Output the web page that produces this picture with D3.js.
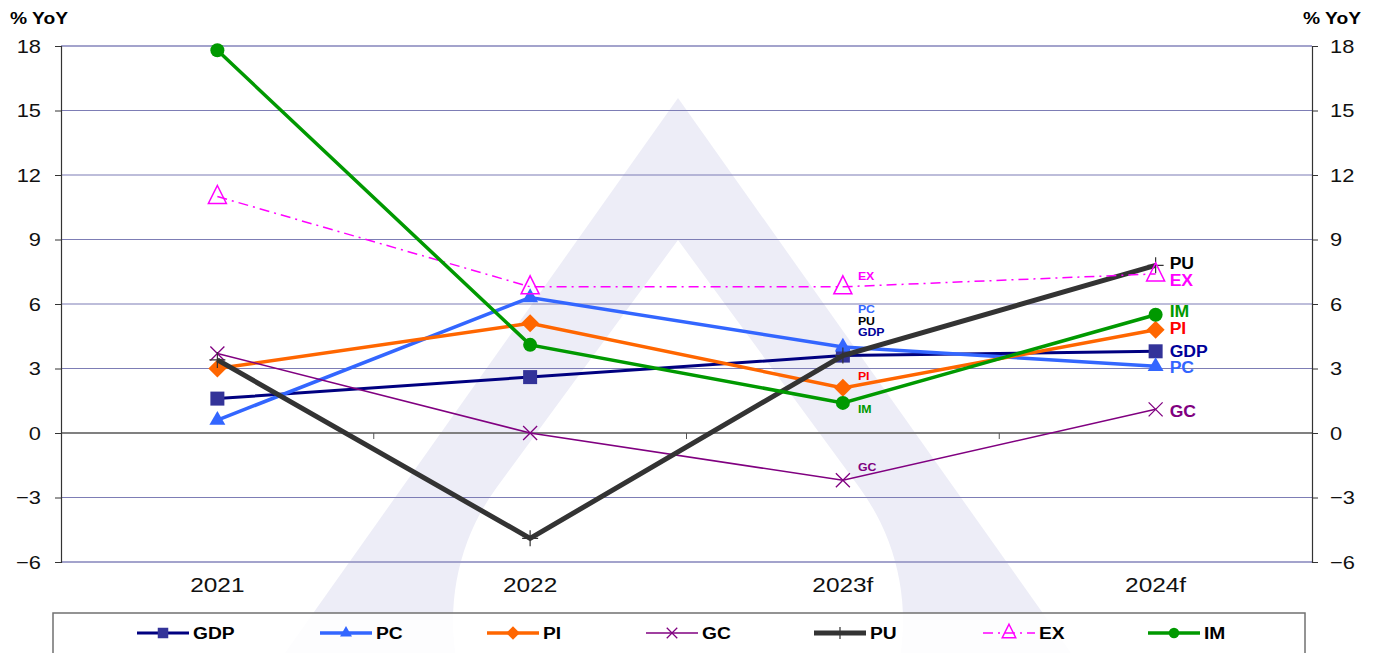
<!DOCTYPE html>
<html>
<head>
<meta charset="utf-8">
<script src="https://cdn.jsdelivr.net/npm/d3@7"></script>
<style>
  body { margin: 0; background: #fff; }
  svg text { font-family: "Liberation Sans", Arial, sans-serif; }
</style>
</head>
<body>
<div id="chart"></div>
<script>
const width = 1380, height = 653, margin = {top: 46, right: 68, bottom: 91, left: 61};

// data
const years = ["2021", "2022", "2023f", "2024f"];
const yTicks = [-6, -3, 0, 3, 6, 9, 12, 15, 18];
const gdp = [1.6, 2.6, 3.6, 3.8];
const pc  = [0.6, 6.3, 4.0, 3.1];
const pi  = [3.0, 5.1, 2.1, 4.8];
const gc  = [3.7, 0.0, -2.2, 1.1];
const pu  = [3.4, -4.9, 3.6, 7.8];
const ex  = [11.0, 6.8, 6.8, 7.4];
const im  = [17.8, 4.1, 1.4, 5.5];

const series = [
  {name: "GDP", values: gdp, color: "#000080", mark: "#333399", label: "#000099", width: 3, symbol: "square"},
  {name: "PC",  values: pc,  color: "#3366ff", mark: "#3366ff", label: "#3366ff", width: 3.5, symbol: "triangle"},
  {name: "PI",  values: pi,  color: "#ff6600", mark: "#ff6600", label: "#ff0000", width: 3.5, symbol: "diamond"},
  {name: "GC",  values: gc,  color: "#800080", mark: "#800080", label: "#800080", width: 1.5, symbol: "x"},
  {name: "PU",  values: pu,  color: "#333333", mark: "#333333", label: "#000000", width: 5, symbol: "plus"},
  {name: "EX",  values: ex,  color: "#ff00ff", mark: "#ff00ff", label: "#ff00ff", width: 1.5, symbol: "hollowTriangle", dash: "10,5,2,5"},
  {name: "IM",  values: im,  color: "#009900", mark: "#009900", label: "#009900", width: 3.5, symbol: "circle"}
];

// label nudges (pixels) for the point labels at 2023f and 2024f
const nudge2023 = {EX: -11, PC: -38, PU: -34, GDP: -23, PI: -12, IM: 6, GC: -13};
const nudge2024 = {PU: -2, EX: 6, IM: -3, PI: -1, GDP: 0, PC: 1, GC: 2};
const legendX = [137, 320, 487, 646, 814, 983, 1148];

const svg = d3.select("#chart")
  .append("svg")
  .attr("width", width)
  .attr("height", height);

// watermark
const wm = svg.append("g");
wm.append("path")
  .attr("d", "M678,98 L280,660 L1076,660 Z")
  .attr("fill", "#ededf7");
wm.append("path")
  .attr("d", "M678,240 L497,487 A225,225 0 1,0 859,487 Z")
  .attr("fill", "#ffffff");

const x = d3.scaleBand()
  .domain(years)
  .range([margin.left, width - margin.right]);
const cx = d => x(d) + x.bandwidth() / 2;

const y = d3.scaleLinear()
  .domain([-6, 18])
  .range([height - margin.bottom, margin.top]);

// grid lines
svg.append("g")
  .selectAll("line")
  .data(yTicks)
  .join("line")
  .attr("x1", margin.left)
  .attr("x2", width - margin.right)
  .attr("y1", d => y(d))
  .attr("y2", d => y(d))
  .attr("stroke", d => d === 0 ? "#808080" : (d === 18 || d === -6) ? "#a3a3cc" : "#7d7db5")
  .attr("stroke-width", d => d === 0 ? 2 : (d === 18 || d === -6) ? 2 : 1.2);

// left / right axes
const yLeft = svg.append("g")
  .attr("transform", `translate(${margin.left},0)`)
  .call(d3.axisLeft(y).tickValues(yTicks).tickSize(6).tickPadding(14));
const yRight = svg.append("g")
  .attr("transform", `translate(${width - margin.right},0)`)
  .call(d3.axisRight(y).tickValues(yTicks).tickSize(6).tickPadding(12));
[yLeft, yRight].forEach(g => {
  g.select(".domain").attr("stroke", "#333").attr("stroke-width", 1.2);
  g.selectAll(".tick line").attr("stroke", "#333");
  g.selectAll(".tick text").attr("font-size", 19).attr("fill", "#111")
    .attr("class", "stretch").attr("data-k", 1.15)
    .style("font-family", "Liberation Sans, Arial, sans-serif");
});

// category ticks on the zero line
svg.append("g")
  .selectAll("line")
  .data(years.slice(1))
  .join("line")
  .attr("x1", d => x(d)).attr("x2", d => x(d))
  .attr("y1", y(0)).attr("y2", y(0) + 6)
  .attr("stroke", "#555");

svg.append("g")
  .selectAll("text")
  .data(years)
  .join("text")
  .attr("class", "stretch").attr("data-k", 1.22)
  .attr("x", d => cx(d))
  .attr("y", 592)
  .attr("text-anchor", "middle")
  .attr("font-size", 20)
  .attr("fill", "#111")
  .text(d => d);

svg.append("text").attr("x", 10).attr("y", 24)
  .attr("class", "stretch").attr("data-k", 1.2)
  .attr("font-size", 16).attr("font-weight", "bold").text("% YoY");
svg.append("text").attr("x", 1303).attr("y", 24)
  .attr("class", "stretch").attr("data-k", 1.2)
  .attr("font-size", 16).attr("font-weight", "bold").text("% YoY");

function drawSymbol(g, s, px, py, scale) {
  const k = scale || 1;
  if (s.symbol === "square") {
    g.append("rect").attr("x", px - 7 * k).attr("y", py - 7 * k)
      .attr("width", 14 * k).attr("height", 14 * k).attr("fill", s.mark);
  } else if (s.symbol === "triangle") {
    g.append("path").attr("transform", `translate(${px},${py})`)
      .attr("d", d3.symbol(d3.symbolTriangle, 110 * k * k)).attr("fill", s.mark);
  } else if (s.symbol === "diamond") {
    const r = 9 * k;
    g.append("path").attr("d", `M${px},${py - r}L${px + r},${py}L${px},${py + r}L${px - r},${py}Z`)
      .attr("fill", s.mark);
  } else if (s.symbol === "x") {
    const r = 7 * k;
    g.append("path").attr("d", `M${px - r},${py - r}L${px + r},${py + r}M${px - r},${py + r}L${px + r},${py - r}`)
      .attr("stroke", s.mark).attr("stroke-width", 1.3).attr("fill", "none");
  } else if (s.symbol === "plus") {
    const r = 8 * k;
    g.append("path").attr("d", `M${px - r},${py}L${px + r},${py}M${px},${py - r}L${px},${py + r}`)
      .attr("stroke", s.mark).attr("stroke-width", 1.2).attr("fill", "none");
  } else if (s.symbol === "hollowTriangle") {
    const r = 9 * k;
    g.append("path").attr("d", `M${px},${py - r - 2}L${px + r},${py + r - 2}L${px - r},${py + r - 2}Z`)
      .attr("stroke", s.mark).attr("stroke-width", 1.5).attr("fill", "none");
  } else if (s.symbol === "circle") {
    g.append("circle").attr("cx", px).attr("cy", py).attr("r", 7 * k).attr("fill", s.mark);
  }
}

const line = d3.line()
  .x((d, i) => cx(years[i]))
  .y(d => y(d));

series.forEach(s => {
  const g = svg.append("g");
  g.append("path")
    .datum(s.values)
    .attr("fill", "none")
    .attr("stroke", s.color)
    .attr("stroke-width", s.width)
    .attr("stroke-dasharray", s.dash || null)
    .attr("d", line);
  s.values.forEach((v, i) => drawSymbol(g, s, cx(years[i]), y(v)));
});

// point labels
series.forEach(s => {
  svg.append("text")
    .attr("class", "stretch").attr("data-k", 1.12)
    .attr("x", cx("2023f") + 15)
    .attr("y", y(s.values[2]) + nudge2023[s.name])
    .attr("dy", "0.35em")
    .attr("font-size", 11).attr("font-weight", "bold")
    .attr("fill", s.label).text(s.name);
  svg.append("text")
    .attr("class", "stretch").attr("data-k", 1.1)
    .attr("x", cx("2024f") + 14)
    .attr("y", y(s.values[3]) + nudge2024[s.name])
    .attr("dy", "0.35em")
    .attr("font-size", 16).attr("font-weight", "bold")
    .attr("fill", s.label).text(s.name);
});

// legend
const legend = svg.append("g");
legend.append("rect")
  .attr("x", 53).attr("y", 613).attr("width", 1252).attr("height", 60)
  .attr("fill", "#ffffff").attr("fill-opacity", 0.85)
  .attr("stroke", "#707070").attr("stroke-width", 1.5);
series.forEach((s, i) => {
  const lx = legendX[i], ly = 633;
  legend.append("line")
    .attr("x1", lx).attr("x2", lx + 52).attr("y1", ly).attr("y2", ly)
    .attr("stroke", s.color).attr("stroke-width", s.width)
    .attr("stroke-dasharray", s.dash || null);
  drawSymbol(legend, s, lx + 26, ly, 0.75);
  legend.append("text")
    .attr("class", "stretch").attr("data-k", 1.2)
    .attr("x", lx + 56).attr("y", ly).attr("dy", "0.35em")
    .attr("font-size", 16).attr("font-weight", "bold").attr("fill", "#000")
    .text(s.name);
});

// the source picture is a little wider than tall, so stretch the text to match
svg.selectAll("text.stretch").each(function() {
  const t = d3.select(this);
  const len = this.getComputedTextLength();
  t.attr("textLength", len * +t.attr("data-k")).attr("lengthAdjust", "spacingAndGlyphs");
});
</script>
</body>
</html>
